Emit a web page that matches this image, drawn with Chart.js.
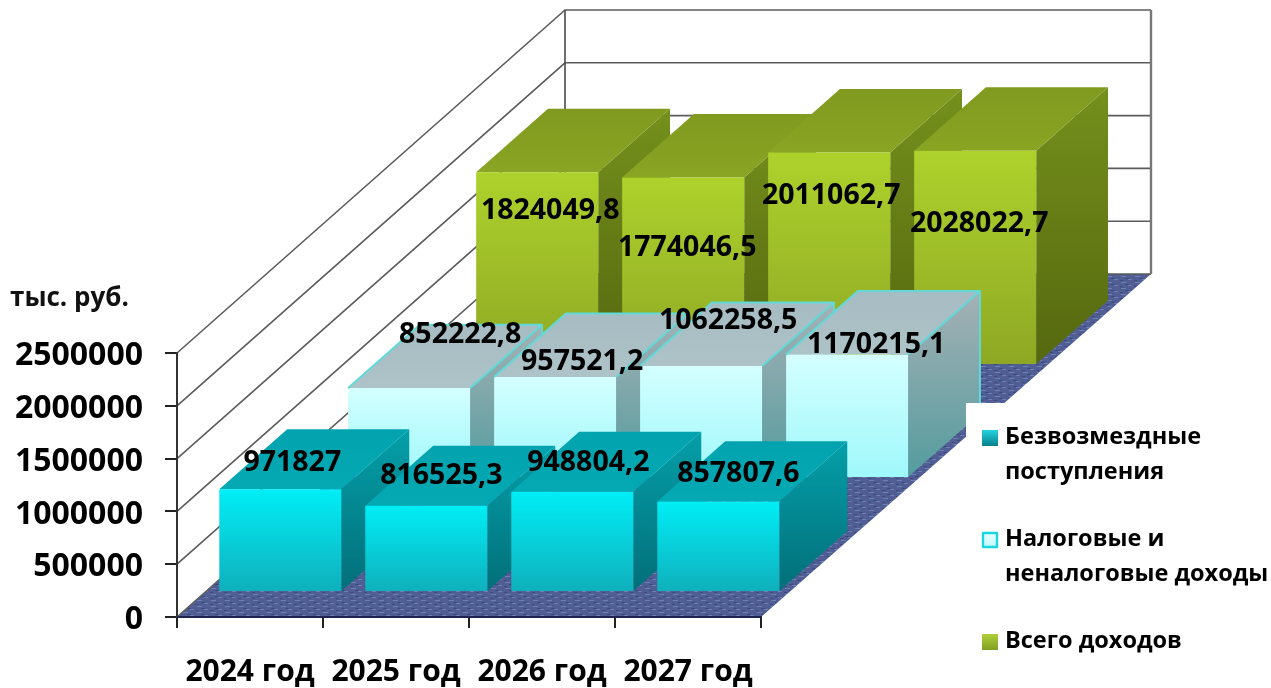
<!DOCTYPE html>
<html>
<head>
<meta charset="utf-8">
<title>Доходы</title>
<script src="https://cdn.jsdelivr.net/npm/chart.js@4"></script>
<style>
  html, body { margin: 0; padding: 0; background: #fff; overflow: hidden; }
  canvas { display: block; }
</style>
</head>
<body>
<canvas id="chart" width="1271" height="688"></canvas>
<script>
const years = ['2024 год', '2025 год', '2026 год', '2027 год'];
const grants = [971827, 816525.3, 948804.2, 857807.6];
const ownIncome = [852222.8, 957521.2, 1062258.5, 1170215.1];
const totalIncome = [1824049.8, 1774046.5, 2011062.7, 2028022.7];
const seriesNames = ['Безвозмездные поступления', 'Налоговые и неналоговые доходы', 'Всего доходов'];
const valueTexts = [
  ['971827', '816525,3', '948804,2', '857807,6'],
  ['852222,8', '957521,2', '1062258,5', '1170215,1'],
  ['1824049,8', '1774046,5', '2011062,7', '2028022,7']
];
const unitLabel = 'тыс. руб.';

// look of the 3d box
const FONT = '"Open Sans", sans-serif';
const WALL_DX = 388;
const WALL_DY = 343;
const BACK_EXTRA = 2;
const ROW_SHIFT_X = 2;
const ROW_DEPTH = [0.073, 0.405, 0.735];
const BAR_DEPTH = [0.175, 0.185, 0.185];

const rowStyles = [
  { front: ['#00eef6', '#0fb0bc'], top: ['#02a3ae', '#04a9b4'], side: ['#049fa9', '#026f79'], edge: null },
  { front: ['#d4ffff', '#9ff8fb'], top: ['#a7bcc2', '#aec3c8'], side: ['#a5b1b5', '#549c9e'], edge: '#62d9d9' },
  { front: ['#aed22c', '#8ea824'], top: ['#7f9a1f', '#8aa423'], side: ['#75901c', '#55680f'], edge: null }
];

// label placement relative to the front face top centre of each bar
const labelNudge = [
  [[12, -26], [15, -30], [16, -29], [20, -28]],
  [[51, -53], [27, -15], [27, -45], [29, -10]],
  [[13, 39], [4, 70], [2, 43], [4, 73]]
];

const legendRows = [
  { lines: ['Безвозмездные', 'поступления'], y: 437, swatch: ['#22d4df', '#067f8b'], border: null },
  { lines: ['Налоговые и', 'неналоговые доходы'], y: 539, swatch: ['#f0ffff', '#bdf7fa'], border: '#19d6e0' },
  { lines: ['Всего доходов'], y: 641, swatch: ['#b0cf3c', '#84a022'], border: null }
];

function floorPattern(ctx) {
  const tile = document.createElement('canvas');
  tile.width = 14;
  tile.height = 6;
  const t = tile.getContext('2d');
  t.fillStyle = '#4f5f96';
  t.fillRect(0, 0, 14, 6);
  t.fillStyle = '#6f7fb0';
  t.fillRect(1, 0, 5, 1);
  t.fillRect(8, 3, 4, 1);
  t.fillStyle = '#3f4a7c';
  t.fillRect(5, 2, 4, 1);
  t.fillRect(0, 4, 3, 1);
  t.fillStyle = '#5c5a90';
  t.fillRect(10, 5, 4, 1);
  return ctx.createPattern(tile, 'repeat');
}

function polygon(ctx, pts, fill) {
  ctx.beginPath();
  pts.forEach((p, i) => (i ? ctx.lineTo(p[0], p[1]) : ctx.moveTo(p[0], p[1])));
  ctx.closePath();
  ctx.fillStyle = fill;
  ctx.fill();
}

function gradient(ctx, x0, y0, x1, y1, colors) {
  const g = ctx.createLinearGradient(x0, y0, x1, y1);
  g.addColorStop(0, colors[0]);
  g.addColorStop(1, colors[1]);
  return g;
}

function drawWalls(chart) {
  const ctx = chart.ctx;
  const x = chart.scales.x;
  const y = chart.scales.y;
  const left = x.left;
  const right = x.right;
  const zero = y.getPixelForValue(0);
  const peak = y.getPixelForValue(y.max);
  const backRight = right + WALL_DX + BACK_EXTRA;

  ctx.save();
  polygon(ctx, [
    [left, zero],
    [right, zero],
    [backRight, zero - WALL_DY],
    [left + WALL_DX, zero - WALL_DY]
  ], floorPattern(ctx));

  // grid lines on the left and the back wall
  y.ticks.forEach((tick) => {
    const py = y.getPixelForValue(tick.value);
    ctx.beginPath();
    ctx.moveTo(left, py);
    ctx.lineTo(left + WALL_DX, py - WALL_DY);
    ctx.lineTo(backRight, py - WALL_DY);
    ctx.lineWidth = 1.6;
    ctx.strokeStyle = '#5c5c5c';
    ctx.stroke();
  });

  ctx.beginPath();
  ctx.moveTo(left + WALL_DX, peak - WALL_DY);
  ctx.lineTo(left + WALL_DX, zero - WALL_DY);
  ctx.lineWidth = 1.6;
  ctx.strokeStyle = '#4a4a4a';
  ctx.stroke();

  ctx.beginPath();
  ctx.moveTo(backRight, peak - WALL_DY);
  ctx.lineTo(backRight, zero - WALL_DY);
  ctx.lineWidth = 2.4;
  ctx.strokeStyle = '#777777';
  ctx.stroke();
  ctx.restore();
}

function drawBox(ctx, el, rowIndex) {
  const style = rowStyles[rowIndex];
  const d0 = ROW_DEPTH[rowIndex];
  const ox = d0 * WALL_DX + ROW_SHIFT_X;
  const oy = d0 * WALL_DY;
  const dx = BAR_DEPTH[rowIndex] * WALL_DX;
  const dy = BAR_DEPTH[rowIndex] * WALL_DY;
  const x0 = el.x - el.width / 2 + ox;
  const x1 = el.x + el.width / 2 + ox;
  const top = el.y - oy;
  const base = el.base - oy;

  polygon(ctx, [[x1, top], [x1 + dx, top - dy], [x1 + dx, base - dy], [x1, base]],
    gradient(ctx, 0, top - dy, 0, base, style.side));
  polygon(ctx, [[x0, top], [x0 + dx, top - dy], [x1 + dx, top - dy], [x1, top]],
    gradient(ctx, 0, top - dy, 0, top, style.top));
  polygon(ctx, [[x0, top], [x1, top], [x1, base], [x0, base]],
    gradient(ctx, 0, top, 0, base, style.front));

  if (style.edge) {
    ctx.strokeStyle = style.edge;
    ctx.lineWidth = 2;
    ctx.lineJoin = 'round';
    ctx.beginPath();
    ctx.moveTo(x0, top);
    ctx.lineTo(x0 + dx, top - dy);
    ctx.lineTo(x1 + dx, top - dy);
    ctx.lineTo(x1 + dx, base - dy);
    ctx.moveTo(x1, top);
    ctx.lineTo(x1 + dx, top - dy);
    ctx.stroke();
  }
}

function drawValueLabels(chart) {
  const ctx = chart.ctx;
  ctx.save();
  ctx.font = 'bold 28.5px ' + FONT;
  ctx.fillStyle = '#000';
  ctx.textAlign = 'center';
  ctx.textBaseline = 'middle';
  chart.data.datasets.forEach((ds, rowIndex) => {
    const d0 = ROW_DEPTH[rowIndex];
    chart.getDatasetMeta(rowIndex).data.forEach((el, i) => {
      const nudge = labelNudge[rowIndex][i];
      ctx.fillText(valueTexts[rowIndex][i], el.x + d0 * WALL_DX + ROW_SHIFT_X + nudge[0], el.y - d0 * WALL_DY + nudge[1]);
    });
  });
  ctx.restore();
}

function drawLegend(chart) {
  const ctx = chart.ctx;
  ctx.save();
  ctx.fillStyle = '#fff';
  ctx.fillRect(966, 403, 305, 285);
  legendRows.forEach((row) => {
    const sy = row.y - 7;
    ctx.fillStyle = gradient(ctx, 0, sy, 0, sy + 16, row.swatch);
    ctx.fillRect(982, sy, 16, 16);
    if (row.border) {
      ctx.strokeStyle = row.border;
      ctx.lineWidth = 2.4;
      ctx.strokeRect(983, sy + 1, 14, 14);
    }
    ctx.font = 'bold 23.5px ' + FONT;
    ctx.fillStyle = '#000';
    ctx.textAlign = 'left';
    ctx.textBaseline = 'middle';
    row.lines.forEach((line, i) => ctx.fillText(line, 1005, row.y + i * 35));
  });
  ctx.restore();
}

const box3d = {
  id: 'box3d',
  beforeDatasetsDraw(chart) {
    drawWalls(chart);
  },
  beforeDatasetDraw(chart, args) {
    args.meta.data.forEach((el) => drawBox(chart.ctx, el, args.index));
    return false;
  },
  afterDatasetsDraw(chart) {
    drawValueLabels(chart);
  },
  afterDraw(chart) {
    const ctx = chart.ctx;
    ctx.save();
    ctx.font = 'bold 26px ' + FONT;
    ctx.fillStyle = '#111';
    ctx.textAlign = 'left';
    ctx.textBaseline = 'middle';
    ctx.fillText(unitLabel, 10, 299);
    ctx.restore();
    drawLegend(chart);
  }
};

new Chart(document.getElementById('chart'), {
  type: 'bar',
  data: {
    labels: years,
    datasets: [
      { label: seriesNames[0], data: grants, backgroundColor: '#00d8e2' },
      { label: seriesNames[1], data: ownIncome, backgroundColor: '#ccffff' },
      { label: seriesNames[2], data: totalIncome, backgroundColor: '#a0c428' }
    ]
  },
  options: {
    responsive: false,
    animation: false,
    devicePixelRatio: 1,
    layout: { padding: { left: 0, right: 510, top: 353, bottom: 0 } },
    plugins: { legend: { display: false }, tooltip: { enabled: false } },
    datasets: { bar: { grouped: false, categoryPercentage: 1, barPercentage: 0.836 } },
    scales: {
      x: {
        afterFit(scale) { scale.height = 71; },
        grid: { drawOnChartArea: false, color: '#222', lineWidth: 2, tickLength: 11 },
        border: { color: '#1e2350', width: 2, z: 1 },
        ticks: { color: '#000', font: { family: FONT, size: 30, weight: 'bold' }, padding: 26, maxRotation: 0, autoSkip: false }
      },
      y: {
        min: 0,
        max: 2500000,
        afterFit(scale) { scale.width = 177; },
        grid: { drawOnChartArea: false, color: '#222', lineWidth: 2, tickLength: 12 },
        border: { color: '#333', width: 2, z: 1 },
        ticks: {
          stepSize: 500000,
          color: '#000',
          font: { family: FONT, size: 32, weight: 'bold' },
          padding: 22,
          labelOffset: 3,
          callback: (value) => String(value)
        }
      }
    }
  },
  plugins: [box3d]
});
</script>
</body>
</html>
